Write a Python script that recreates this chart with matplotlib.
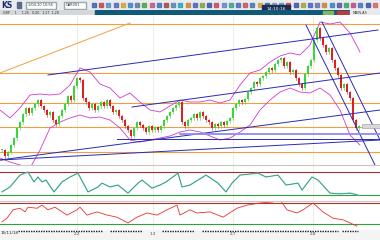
import numpy as np
import matplotlib
matplotlib.use('Agg')
from matplotlib import pyplot as plt
from matplotlib.patches import Rectangle

# daily closes (one bar every 3 px)
closes = [1.250, 1.244, 1.248, 1.255, 1.262, 1.272, 1.278, 1.286, 1.292, 1.287,
          1.292, 1.296, 1.300, 1.294, 1.290, 1.285, 1.288, 1.280, 1.276, 1.284,
          1.290, 1.296, 1.304, 1.300, 1.314, 1.322, 1.320, 1.302, 1.298, 1.292,
          1.296, 1.290, 1.294, 1.298, 1.294, 1.300, 1.294, 1.288, 1.290, 1.284,
          1.280, 1.274, 1.270, 1.264, 1.272, 1.278, 1.275, 1.272, 1.268, 1.274,
          1.270, 1.273, 1.270, 1.274, 1.280, 1.284, 1.288, 1.292, 1.295, 1.298,
          1.278, 1.274, 1.280, 1.282, 1.286, 1.282, 1.288, 1.284, 1.280, 1.278,
          1.272, 1.276, 1.274, 1.278, 1.275, 1.279, 1.282, 1.292, 1.296, 1.300,
          1.298, 1.301, 1.308, 1.312, 1.318, 1.316, 1.322, 1.324, 1.328, 1.332,
          1.330, 1.336, 1.340, 1.342, 1.334, 1.338, 1.328, 1.330, 1.322, 1.316,
          1.312, 1.326, 1.334, 1.340, 1.360, 1.372, 1.362, 1.355, 1.348, 1.352,
          1.340, 1.332, 1.325, 1.312, 1.316, 1.308, 1.302, 1.280, 1.272, 1.274]

# bollinger bands (x in 4-px units)
band_bars = [-0.5, 2, 4.5, 7, 9.5, 12, 14.5, 17, 19.5, 22, 24.5, 27, 29.5, 32, 34.5, 37,
             39.5, 42, 44.5, 47, 49.5, 52, 54.5, 57, 59.5, 62, 64.5, 67, 69.5, 72, 74.5,
             77, 79.5, 82, 84.5, 87, 89.5]
band_upper = [1.290, 1.282, 1.292, 1.305, 1.306, 1.305, 1.306, 1.315, 1.332, 1.328,
              1.316, 1.312, 1.302, 1.307, 1.298, 1.290, 1.288, 1.294, 1.300, 1.298,
              1.298, 1.300, 1.297, 1.300, 1.315, 1.327, 1.330, 1.338, 1.344, 1.347,
              1.345, 1.355, 1.378, 1.376, 1.378, 1.367, 1.348]
band_lower = [1.242, 1.238, 1.235, 1.232, 1.250, 1.272, 1.278, 1.282, 1.285, 1.282,
              1.283, 1.280, 1.272, 1.260, 1.258, 1.260, 1.262, 1.264, 1.268, 1.270,
              1.268, 1.264, 1.260, 1.262, 1.268, 1.275, 1.290, 1.300, 1.308, 1.312,
              1.308, 1.307, 1.312, 1.305, 1.290, 1.265, 1.255]

# drawn lines: ((bar, price), (bar, price))
blue_lines = [((11.5, 1.325), (94, 1.370)),
              ((32.5, 1.293), (94.5, 1.327)),
              ((-0.5, 1.240), (94.5, 1.290)),
              ((-0.5, 1.240), (94.5, 1.260)),
              ((28.75, 1.261), (94.5, 1.261)),
              ((76, 1.375), (93.25, 1.235)),
              ((80, 1.378), (94.5, 1.260))]
light_blue_line = ((44.5, 1.266), (94.5, 1.266))
orange_diag = ((-0.5, 1.327), (32, 1.377))
orange_levels = [1.376, 1.327, 1.297, 1.273, 1.248]

# stochastic
stoch_bars = [0, 2, 4.5, 6.5, 8, 9, 10, 11, 13, 15, 17, 19, 21.5, 24, 25, 27, 29, 31.5, 34, 35,
              37.5, 39.5, 41, 44, 45, 47, 49, 51, 54, 56, 57.5, 59.5, 64, 66, 69, 71, 74, 75,
              77.5, 79, 82, 84.5, 87, 89]
stoch_vals = [28, 41, 72, 80, 54, 67, 54, 59, 28, 54, 67, 77, 28, 41, 51, 41, 46, 25, 51, 59,
              38, 46, 54, 77, 41, 46, 59, 72, 51, 28, 51, 72, 77, 67, 72, 46, 51, 33,
              67, 59, 25, 23, 25, 20]
# rsi
rsi_bars = [0, 1.25, 2.75, 4.5, 5.75, 6.5, 8.75, 10, 11.5, 13.25, 16.25, 18.75, 19.5, 21.25,
            23.75, 26.25, 28.75, 31.5, 33.75, 36.25, 38.75, 41.25, 43.75, 44.5, 47, 48.75,
            52, 55.25, 58.75, 61.25, 64.5, 67.75, 69.5, 71.25, 73.75, 75.25, 77.75, 80.25,
            82.75, 85.25, 87, 88.75]
rsi_vals = [34, 41, 57, 60, 53, 62, 60, 66, 57, 62, 47, 57, 62, 47, 53, 47, 43, 32, 43, 51,
            47, 57, 66, 47, 57, 51, 53, 43, 60, 66, 70, 72, 76, 57, 51, 57, 70, 53, 41, 38,
            32, 26]

date_bars = [18.75, 37.75, 57.75, 77.75]
date_labels = ['2.2', '1.3', '2.7', '2.8']
first_date = '15/11/18'

W, H = 380, 240
fig = plt.figure(figsize=(3.8, 2.4), dpi=100)
fig.patch.set_facecolor('white')


def px_axes(x0, y0, x1, y1):
    # axes placed in pixel coords of the screenshot (y from top)
    return fig.add_axes([x0 / W, 1 - y1 / H, (x1 - x0) / W, (y1 - y0) / H])


'''toolbar'''
tb = px_axes(0, 0, 380, 10)
tb.set_xlim(0, 380)
tb.set_ylim(10, 0)
tb.axis('off')
tb.add_patch(Rectangle((0, 0), 380, 10, color='#e9ebee'))
tb.text(1, 5.5, 'KS', fontsize=5.5, color='#1a2a6a', weight='bold', va='center')
tb.add_patch(Rectangle((17, 2), 4, 6, color='#5a6a8a'))
tb.add_patch(Rectangle((26, 1.5), 30, 7, facecolor='white', edgecolor='#9aa'))
tb.text(28, 5, '1/04-10 10:56', fontsize=2.5, va='center', color='#333')
tb.add_patch(Rectangle((64, 1.5), 22, 7, facecolor='white', edgecolor='#9aa'))
tb.text(66, 5, 'GAR001', fontsize=2.5, va='center', color='#333')
icon_cols = ['#3060b0', '#c04040', '#5090c0', '#5060c0', '#d0a020', '#3080d0', '#6070a0',
             '#40a040', '#c05080', '#3070c0', '#a04040', '#5080b0', '#20a0c0', '#d08030',
             '#4060c0', '#80a030', '#3050a0', '#c04060', '#6080c0', '#30a080', '#5060c0',
             '#c05050', '#4070b0', '#d0a030', '#3060a0', '#8090b0', '#40a0c0', '#c04040',
             '#3050b0', '#a0a030', '#4060c0', '#6070b0', '#c08030', '#3080c0', '#5050a0',
             '#30a060', '#c04080', '#4070c0', '#3050a0', '#d06060']
for k, c in enumerate(icon_cols):
    tb.add_patch(Rectangle((92 + k * 7.2, 3), 4, 4, color=c, alpha=0.8))

'''status strip'''
st = px_axes(0, 10, 380, 15)
st.set_xlim(0, 380)
st.set_ylim(5, 0)
st.axis('off')
st.add_patch(Rectangle((0, 0), 95, 5, color='#d4d7db'))
st.add_patch(Rectangle((95, 0), 285, 5, color='#0e5a78'))
st.text(3, 2.6, 'GBP     1     1.26   0.00   1.27  1.28', fontsize=2.3, va='center', color='#333')
st.add_patch(Rectangle((323, 0.5), 10, 4, color='#7fb85a'))
st.add_patch(Rectangle((337, 0.5), 11, 4, color='#c03a3a'))
st.add_patch(Rectangle((350, 0), 30, 5, color='#e8eaec'))
st.text(353, 2.6, 'MAIN-AS', fontsize=2.5, va='center', color='#333')
tb.add_patch(Rectangle((262, 5), 28, 7, color='#1d2d55', clip_on=False, zorder=4))
tb.text(276, 8.5, '14:10:16', fontsize=3.2, color='white', ha='center', va='center',
        zorder=5, clip_on=False)

'''main chart'''
ax = px_axes(0, 15, 380, 165)
ax.set_xlim(-0.5, 94.5)
ax.set_ylim(1.235, 1.385)
ax.set_facecolor('white')
for s in ax.spines.values():
    s.set_visible(False)
ax.set_xticks([])
ax.set_yticks([])

for xb in date_bars:
    ax.axvline(xb, color='#ecebd8', lw=0.6, zorder=0)
for lv in orange_levels:
    ax.axhline(lv, color='#f0a040', lw=0.8, zorder=1)
(x0, y0), (x1, y1) = orange_diag
ax.plot([x0, x1], [y0, y1], color='#f0a040', lw=0.7, zorder=1)

ax.plot(band_bars, band_upper, color='#d03ad0', lw=0.6, zorder=2)
ax.plot(band_bars, band_lower, color='#d03ad0', lw=0.6, zorder=2)

bar_x = np.arange(len(closes)) * 0.75
opens = [closes[0]] + closes[:-1]
for xb, o, c in zip(bar_x, opens, closes):
    col = '#3bd63b' if c >= o else '#e02020'
    lo, hi = min(o, c), max(o, c)
    ax.plot([xb, xb], [lo - 0.0015, hi + 0.0015], color=col, lw=0.4, zorder=3)
    ax.add_patch(Rectangle((xb - 0.26, lo), 0.52, max(hi - lo, 0.0012), color=col, lw=0,
                           zorder=3))

for (x0, y0), (x1, y1) in blue_lines:
    ax.plot([x0, x1], [y0, y1], color='#2a2ab8', lw=0.7, zorder=4)
(x0, y0), (x1, y1) = light_blue_line
ax.plot([x0, x1], [y0, y1], color='#8c8cf0', lw=1.3, zorder=4)

# last price marker on the right
ax.add_patch(Rectangle((90, closes[-1] - 0.002), 4.5, 0.004, facecolor='#d8d8d8',
                       edgecolor='#999999', lw=0.4, zorder=5))

'''stochastic panel'''
ax1 = px_axes(0, 165, 380, 201)
ax1.set_xlim(-0.5, 94.5)
ax1.set_ylim(4.35, 98.3)
for s in ax1.spines.values():
    s.set_visible(False)
ax1.spines['top'].set_visible(True)
ax1.spines['top'].set_color('#c8c8c8')
ax1.set_xticks([])
ax1.set_yticks([])
for xb in date_bars:
    ax1.axvline(xb, color='#ecebd8', lw=0.6, zorder=0)
ax1.axhline(80, color='#a03030', lw=0.8)
ax1.axhline(20, color='#30a040', lw=0.8)
ax1.plot(stoch_bars, stoch_vals, color='#60e0d0', lw=1.0)
ax1.plot(stoch_bars, stoch_vals, color='#507060', lw=0.4)

'''rsi panel'''
ax2 = px_axes(0, 201, 380, 230)
ax2.set_xlim(-0.5, 94.5)
ax2.set_ylim(18.6, 73.8)
for s in ax2.spines.values():
    s.set_visible(False)
ax2.spines['top'].set_visible(True)
ax2.spines['top'].set_color('#c8c8c8')
ax2.set_xticks([])
ax2.set_yticks([])
for xb in date_bars:
    ax2.axvline(xb, color='#ecebd8', lw=0.6, zorder=0)
ax2.axhline(70, color='#b03030', lw=0.8)
ax2.axhline(30, color='#30a040', lw=0.8)
ax2.plot(rsi_bars, rsi_vals, color='#e83030', lw=0.6)

'''date axis'''
ax3 = px_axes(0, 230, 380, 240)
ax3.set_xlim(-0.5, 94.5)
ax3.set_ylim(10, 0)
ax3.axis('off')
ax3.add_patch(Rectangle((-0.5, 0), 95, 10, color='#f4f4f4'))
for a, b in [(4, 25), (27, 35), (40, 48), (50, 84), (85, 89)]:
    ax3.plot([a, b], [1.2, 1.2], color='#222222', lw=1.0, ls=(0, (1, 0.8)))
ax3.text(-0.3, 2.5, first_date, fontsize=3, color='#222222', va='center')
for xb, lab in zip(date_bars, date_labels):
    ax3.text(xb, 4, lab, fontsize=3, color='#444444', ha='center', va='center')

fig.savefig('out.png', dpi=100)
